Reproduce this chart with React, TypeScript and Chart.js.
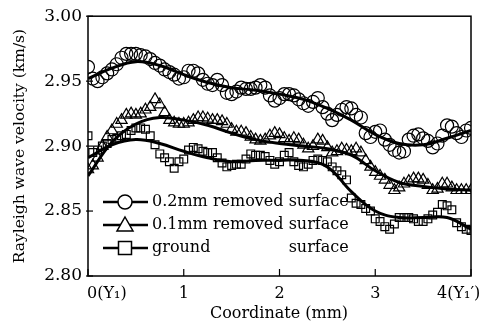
import { useEffect, useRef } from "react";
import { Chart, registerables } from "chart.js";

Chart.register(...registerables);

// Measurement positions along the specimen (mm)
const coords = [
  0, 0.05, 0.1, 0.15, 0.2, 0.25, 0.3, 0.35, 0.4, 0.45,
  0.5, 0.55, 0.6, 0.65, 0.7, 0.75, 0.8, 0.85, 0.9, 0.95,
  1, 1.05, 1.1, 1.15, 1.2, 1.25, 1.3, 1.35, 1.4, 1.45,
  1.5, 1.55, 1.6, 1.65, 1.7, 1.75, 1.8, 1.85, 1.9, 1.95,
  2, 2.05, 2.1, 2.15, 2.2, 2.25, 2.3, 2.35, 2.4, 2.45,
  2.5, 2.55, 2.6, 2.65, 2.7, 2.75, 2.8, 2.85, 2.9, 2.95,
  3, 3.05, 3.1, 3.15, 3.2, 3.25, 3.3, 3.35, 3.4, 3.45,
  3.5, 3.55, 3.6, 3.65, 3.7, 3.75, 3.8, 3.85, 3.9, 3.95, 4,
];

// Rayleigh wave velocity (km/s)
const removed02 = [
  2.961, 2.952, 2.95, 2.953, 2.956, 2.959, 2.963, 2.968, 2.971, 2.971,
  2.971, 2.97, 2.969, 2.967, 2.964, 2.962, 2.959, 2.957, 2.955, 2.952,
  2.953, 2.958, 2.958, 2.956, 2.951, 2.948, 2.947, 2.951, 2.947, 2.941,
  2.94, 2.942, 2.945, 2.944, 2.944, 2.945, 2.947, 2.945, 2.939, 2.935,
  2.937, 2.94, 2.94, 2.939, 2.936, 2.933, 2.931, 2.934, 2.937, 2.93,
  2.925, 2.92, 2.924, 2.928, 2.93, 2.929, 2.924, 2.922, 2.91, 2.907,
  2.911, 2.912, 2.905, 2.901, 2.897, 2.895, 2.896, 2.905, 2.908, 2.909,
  2.906, 2.904, 2.899, 2.902, 2.908, 2.916, 2.915, 2.91, 2.907, 2.912, 2.914,
];

const removed01 = [
  2.882, 2.885, 2.891, 2.9, 2.907, 2.912, 2.917, 2.92, 2.924, 2.925,
  2.924, 2.925, 2.928, 2.93, 2.936, 2.932, 2.926, 2.92, 2.918, 2.917,
  2.917, 2.918, 2.92, 2.922, 2.922, 2.921, 2.92, 2.92, 2.919, 2.917,
  2.913, 2.911, 2.911, 2.91, 2.907, 2.905, 2.904, 2.905, 2.908, 2.91,
  2.909, 2.906, 2.904, 2.906, 2.905, 2.901, 2.898, 2.9, 2.905, 2.904,
  2.899, 2.895, 2.896, 2.898, 2.897, 2.896, 2.898, 2.895, 2.889, 2.884,
  2.88, 2.877, 2.874, 2.87, 2.866, 2.868, 2.871, 2.873, 2.875, 2.875,
  2.874, 2.87, 2.866, 2.867, 2.871, 2.871, 2.868, 2.866, 2.866, 2.866, 2.866,
];

const ground = [
  2.908, 2.895, 2.897, 2.9, 2.902, 2.905, 2.906, 2.908, 2.909, 2.912,
  2.914, 2.914, 2.913, 2.908, 2.901, 2.894, 2.891, 2.888, 2.883, 2.888,
  2.89, 2.897, 2.899, 2.898, 2.896, 2.895, 2.895, 2.891, 2.887, 2.884,
  2.885, 2.886, 2.886, 2.89, 2.894, 2.893, 2.893, 2.892, 2.889, 2.886,
  2.888, 2.893, 2.895, 2.888, 2.885, 2.884, 2.886, 2.889, 2.89, 2.889,
  2.888, 2.884, 2.881, 2.878, 2.874, 2.86, 2.856, 2.855, 2.852, 2.85,
  2.844, 2.842, 2.838, 2.836, 2.84, 2.845, 2.845, 2.845, 2.844, 2.842,
  2.842, 2.844, 2.847, 2.849, 2.855, 2.854, 2.851, 2.841, 2.838, 2.836, 2.835,
];

// Fitted curves
const fitCoords = [0, 0.25, 0.5, 0.75, 1, 1.25, 1.5, 1.75, 2, 2.25, 2.5, 2.75, 3, 3.25, 3.5, 3.75, 4];
const fit02 = [2.952, 2.96, 2.965, 2.962, 2.955, 2.949, 2.945, 2.943, 2.94, 2.936, 2.929, 2.92, 2.909, 2.902, 2.901, 2.906, 2.912];
const fit01 = [2.877, 2.903, 2.917, 2.922, 2.92, 2.916, 2.91, 2.905, 2.902, 2.9, 2.898, 2.893, 2.881, 2.872, 2.869, 2.867, 2.866];
const fitGround = [2.891, 2.901, 2.905, 2.902, 2.896, 2.891, 2.888, 2.889, 2.889, 2.889, 2.884, 2.865, 2.85, 2.845, 2.845, 2.845, 2.836];

const yTickValues = [2.8, 2.85, 2.9, 2.95, 3.0];
const xTickValues = [0, 1, 2, 3, 4];
const xTickLabels = ["0(Y\u2081)", "1", "2", "3", "4(Y\u2081\u2032)"];
const legendNames = ["0.2mm removed", "0.1mm removed", "ground"];
const legendSuffix = "surface";
const xTitle = "Coordinate (mm)";
const yTitle = "Rayleigh wave velocity (km/s)";

const FONT = "'DejaVu Serif', 'Liberation Serif', serif";

const pts = (xs: number[], ys: number[]) => xs.map((x, i) => ({ x, y: ys[i] }));

const decorPlugin = {
  id: "decor",
  afterDraw(chart: any) {
    const ctx = chart.ctx as CanvasRenderingContext2D;
    const a = chart.chartArea;
    const xs = chart.scales.x;
    const ys = chart.scales.y;
    ctx.save();
    ctx.strokeStyle = "#000";
    ctx.fillStyle = "#000";
    // frame
    ctx.lineWidth = 1.5;
    ctx.strokeRect(a.left, a.top, a.right - a.left, a.bottom - a.top);
    // y ticks inward
    ctx.lineWidth = 1.2;
    yTickValues.forEach((v) => {
      const y = ys.getPixelForValue(v);
      ctx.beginPath();
      ctx.moveTo(a.left - 2, y);
      ctx.lineTo(a.left + 5, y);
      ctx.stroke();
    });
    // x ticks inward
    xTickValues.forEach((v) => {
      const x = xs.getPixelForValue(v);
      ctx.beginPath();
      ctx.moveTo(x, a.bottom);
      ctx.lineTo(x, a.bottom - 7);
      ctx.stroke();
    });
    // x tick labels
    ctx.font = `16px ${FONT}`;
    ctx.textBaseline = "middle";
    const ly = a.bottom + 18;
    xTickValues.forEach((v, i) => {
      const x = xs.getPixelForValue(v);
      if (i === 0) {
        ctx.textAlign = "left";
        ctx.fillText(xTickLabels[i], x - 1, ly);
      } else if (i === xTickValues.length - 1) {
        ctx.textAlign = "left";
        ctx.fillText(xTickLabels[i], x - 34, ly);
      } else {
        ctx.textAlign = "center";
        ctx.fillText(xTickLabels[i], x, ly);
      }
    });
    // x title
    ctx.textAlign = "center";
    ctx.font = `16px ${FONT}`;
    ctx.fillText(xTitle, 279, a.bottom + 38);
    // y title
    ctx.save();
    ctx.translate(20, (a.top + a.bottom) / 2);
    ctx.rotate(-Math.PI / 2);
    ctx.font = `15.5px ${FONT}`;
    ctx.textAlign = "center";
    ctx.fillText(yTitle, 0, 0);
    ctx.restore();
    // legend
    const rows = [202, 225, 248];
    const mx = 125;
    ctx.font = `16px ${FONT}`;
    ctx.textAlign = "left";
    const suffixX = 152 + ctx.measureText(legendNames[0] + " ").width;
    rows.forEach((ry, i) => {
      ctx.lineWidth = 2.5;
      ctx.beginPath();
      ctx.moveTo(103, ry);
      ctx.lineTo(148, ry);
      ctx.stroke();
      ctx.lineWidth = 1.5;
      ctx.fillStyle = "#fff";
      ctx.beginPath();
      if (i === 0) {
        ctx.arc(mx, ry, 7, 0, Math.PI * 2);
      } else if (i === 1) {
        ctx.moveTo(mx, ry - 8);
        ctx.lineTo(mx + 8, ry + 6);
        ctx.lineTo(mx - 8, ry + 6);
        ctx.closePath();
      } else {
        ctx.rect(mx - 6.5, ry - 6.5, 13, 13);
      }
      ctx.fill();
      ctx.stroke();
      ctx.fillStyle = "#000";
      ctx.fillText(legendNames[i], 152, ry);
      ctx.fillText(legendSuffix, suffixX, ry);
    });
    ctx.restore();
  },
};

export default function App() {
  const ref = useRef<HTMLCanvasElement | null>(null);
  useEffect(() => {
    if (!ref.current) return;
    const markerBase = {
      showLine: false,
      borderColor: "#000",
      backgroundColor: "rgba(0,0,0,0)",
      pointBorderWidth: 1.2,
      pointBorderColor: "#000",
      pointBackgroundColor: "rgba(0,0,0,0)",
    };
    const lineBase = {
      showLine: true,
      pointRadius: 0,
      borderColor: "#000",
      borderWidth: 3,
      tension: 0.4,
      fill: false,
    };
    const chart = new Chart(ref.current, {
      type: "scatter",
      data: {
        datasets: [
          { ...markerBase, label: "0.2mm removed surface", data: pts(coords, removed02), pointStyle: "circle", pointRadius: 6.5 },
          { ...markerBase, label: "0.1mm removed surface", data: pts(coords, removed01), pointStyle: "triangle", pointRadius: 6.5 },
          { ...markerBase, label: "ground surface", data: pts(coords, ground), pointStyle: "rect", pointRadius: 5.5 },
          { ...lineBase, label: "fit 0.2", data: pts(fitCoords, fit02) },
          { ...lineBase, label: "fit 0.1", data: pts(fitCoords, fit01) },
          { ...lineBase, label: "fit ground", data: pts(fitCoords, fitGround) },
        ] as any,
      },
      options: {
        animation: false,
        responsive: false,
        maintainAspectRatio: false,
        layout: { padding: { left: 0, top: 12, right: 22, bottom: 0 } },
        plugins: { legend: { display: false }, tooltip: { enabled: false } },
        scales: {
          x: {
            type: "linear",
            min: 0,
            max: 4,
            grid: { display: false, drawTicks: false },
            border: { display: false },
            ticks: { display: false },
            afterFit: (s: any) => {
              s.height = 48;
            },
          },
          y: {
            type: "linear",
            min: 2.8,
            max: 3.0,
            grid: { display: false, drawTicks: false },
            border: { display: false },
            ticks: {
              stepSize: 0.05,
              padding: 6,
              color: "#000",
              font: { family: FONT, size: 17 },
              callback: (v: any) => Number(v).toFixed(2),
            },
            afterFit: (s: any) => {
              s.width = 88;
            },
          },
        },
      },
      plugins: [decorPlugin],
    });
    return () => chart.destroy();
  }, []);
  return (
    <div style={{ position: "fixed", left: 0, top: 0, width: 493, height: 324, background: "#fff" }}>
      <canvas ref={ref} width={493} height={324} style={{ width: 493, height: 324 }} />
    </div>
  );
}
